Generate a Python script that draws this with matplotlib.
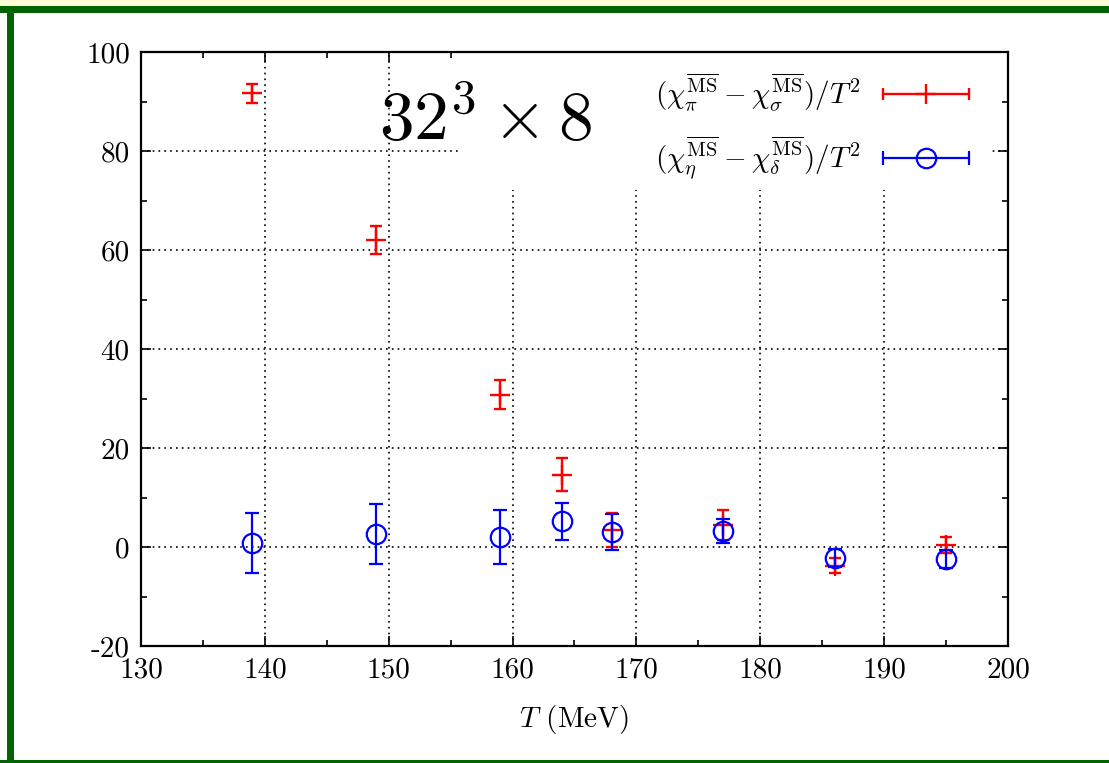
import numpy as np
import matplotlib
matplotlib.use("Agg")
import matplotlib.pyplot as plt
from matplotlib.patches import Rectangle
from matplotlib.legend_handler import HandlerErrorbar
from matplotlib.ticker import MultipleLocator

plt.rcParams['font.family'] = ['cmr10', 'DejaVu Serif']
plt.rcParams['mathtext.fontset'] = 'cm'
plt.rcParams['axes.unicode_minus'] = False
plt.rcParams['axes.formatter.use_mathtext'] = False

# temperatures (MeV)
T = [139, 149, 159, 164, 168, 177, 186, 195]

# (chi_pi - chi_sigma)/T^2
pi_sigma = [91.7, 62.1, 30.8, 14.6, 3.4, 4.5, -3.8, 0.4]
pi_sigma_err = [1.9, 2.8, 3.0, 3.3, 3.4, 3.0, 1.5, 1.6]

# (chi_eta - chi_delta)/T^2
eta_delta = [0.8, 2.6, 2.0, 5.2, 3.0, 3.2, -2.2, -2.5]
eta_delta_err = [6.1, 6.0, 5.4, 3.7, 3.6, 2.4, 1.8, 1.8]

label_red = r'$(\chi_\pi^{\overline{\mathrm{MS}}} - \chi_\sigma^{\overline{\mathrm{MS}}})/T^2$'
label_blue = r'$(\chi_\eta^{\overline{\mathrm{MS}}} - \chi_\delta^{\overline{\mathrm{MS}}})/T^2$'

fig = plt.figure(figsize=(11.09, 7.63), dpi=100)

# slide frame: yellow strip on top, green border
fig.patches.append(Rectangle((0, 0.992), 1, 0.008, transform=fig.transFigure,
                             facecolor='#fffbd2', edgecolor='none', zorder=0))
fig.patches.append(Rectangle((0, 0.983), 1, 0.009, transform=fig.transFigure,
                             facecolor='#006400', edgecolor='none', zorder=0))
fig.patches.append(Rectangle((0.006, 0), 0.0065, 0.99, transform=fig.transFigure,
                             facecolor='#006400', edgecolor='none', zorder=0))
fig.patches.append(Rectangle((0, 0.0), 1, 0.004, transform=fig.transFigure,
                             facecolor='#006400', edgecolor='none', zorder=0))

ax = fig.add_axes([0.1271, 0.1533, 0.7818, 0.7785])
ax.set_xlim(130, 200)
ax.set_ylim(-20, 100)
ax.xaxis.set_major_locator(MultipleLocator(10))
ax.xaxis.set_minor_locator(MultipleLocator(5))
ax.yaxis.set_major_locator(MultipleLocator(20))
ax.yaxis.set_minor_locator(MultipleLocator(10))
ax.tick_params(which='both', direction='in', top=True, right=True, width=1.2,
               labelsize=21, pad=8)
ax.tick_params(which='major', length=7)
ax.tick_params(which='minor', length=4)
for s in ax.spines.values():
    s.set_linewidth(1.6)

ax.set_axisbelow(True)
ax.grid(True, which='major', color='black', linestyle=(0, (1, 2.5)), linewidth=1.2)

# opaque key box hiding the grid
ax.add_patch(Rectangle((0.368, 0.768), 0.61, 0.232, transform=ax.transAxes,
                       facecolor='white', edgecolor='none', zorder=1))

ax.errorbar(T, pi_sigma, yerr=pi_sigma_err, fmt='+', color='red', ms=14, mew=1.7,
            elinewidth=1.7, capsize=4, capthick=1.7, zorder=3)
ax.errorbar(T, eta_delta, yerr=eta_delta_err, fmt='o', color='blue', mfc='none',
            ms=14, mew=1.6, elinewidth=1.6, capsize=5, capthick=1.6, zorder=4)

# legend samples drawn gnuplot style (horizontal bar)
h1 = ax.errorbar([np.nan], [np.nan], xerr=[1.0], fmt='+', color='red', ms=14, mew=1.7,
                 elinewidth=1.7, capsize=4, capthick=1.7)
h2 = ax.errorbar([np.nan], [np.nan], xerr=[1.0], fmt='o', color='blue', mfc='none',
                 ms=14, mew=1.6, elinewidth=1.6, capsize=5, capthick=1.6)
leg = ax.legend([h1, h2], [label_red, label_blue], loc='upper right',
                bbox_to_anchor=(0.986, 1.012), markerfirst=False, frameon=False,
                fontsize=21, handlelength=3.0, handletextpad=0.75, labelspacing=0.75,
                handler_map={type(h1): HandlerErrorbar(xerr_size=1.48)})
leg.set_zorder(5)

ax.text(0.2745, 0.852, r'$32^3\times 8$', transform=ax.transAxes, fontsize=50,
        ha='left', va='baseline', zorder=5)

ax.set_xlabel(r'$T$ (MeV)', fontsize=21, labelpad=14)

fig.savefig('out.png', dpi=100)
